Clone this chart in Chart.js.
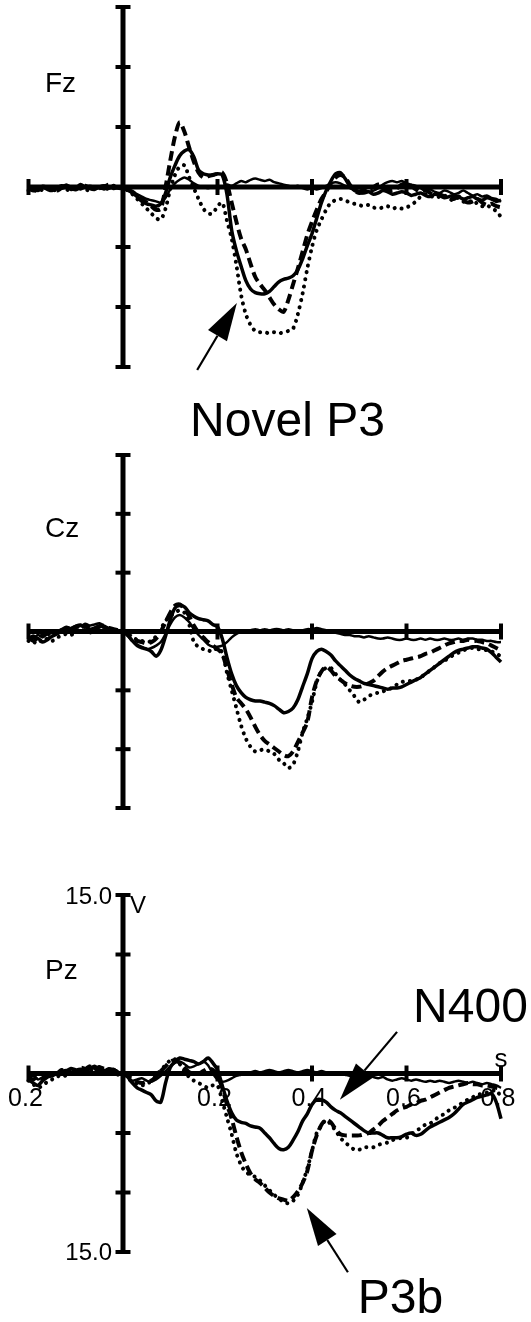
<!DOCTYPE html>
<html>
<head>
<meta charset="utf-8">
<script src="https://cdn.jsdelivr.net/npm/chart.js@4.4.1/dist/chart.umd.min.js"></script>
<style>
  html, body { margin: 0; padding: 0; background: #fff; }
  body { width: 531px; height: 1322px; position: relative; overflow: hidden; }
  canvas { position: absolute; left: 0; }
</style>
</head>
<body>
<canvas id="fz" width="531" height="450" style="top:0px"></canvas>
<canvas id="cz" width="531" height="430" style="top:450px"></canvas>
<canvas id="pz" width="531" height="442" style="top:880px"></canvas>
<script>
// time axis, seconds (10 ms steps)
var times = [
  -0.20,-0.19,-0.18,-0.17,-0.16,-0.15,-0.14,-0.13,-0.12,-0.11,
  -0.10,-0.09,-0.08,-0.07,-0.06,-0.05,-0.04,-0.03,-0.02,-0.01,
  0.00,0.01,0.02,0.03,0.04,0.05,0.06,0.07,0.08,0.09,
  0.10,0.11,0.12,0.13,0.14,0.15,0.16,0.17,0.18,0.19,
  0.20,0.21,0.22,0.23,0.24,0.25,0.26,0.27,0.28,0.29,
  0.30,0.31,0.32,0.33,0.34,0.35,0.36,0.37,0.38,0.39,
  0.40,0.41,0.42,0.43,0.44,0.45,0.46,0.47,0.48,0.49,
  0.50,0.51,0.52,0.53,0.54,0.55,0.56,0.57,0.58,0.59,
  0.60,0.61,0.62,0.63,0.64,0.65,0.66,0.67,0.68,0.69,
  0.70,0.71,0.72,0.73,0.74,0.75,0.76,0.77,0.78,0.79,
  0.80
];

// axis ticks
var xTicks = [-0.2, 0.2, 0.4, 0.6, 0.8];
var xTickLabels = ['0.2', '0.2', '0.4', '0.6', '0.8'];
var yTicks = [-15, -10, -5, 5, 10, 15];
var yEndLabels = ['15.0', '15.0'];

// Fz (uV, positive plotted downward)
var fzStd = [
  0.0,0.2,0.1,-0.1,0.0,0.2,0.1,0.0,-0.2,0.0,
  0.1,0.2,0.0,-0.1,0.0,0.1,0.2,0.0,-0.1,0.0,
  0.1,0.3,0.5,0.6,0.8,1.0,1.1,1.2,1.3,0.9,
  0.2,-0.3,-0.6,-0.8,-0.6,-0.3,-0.1,0.0,0.1,0.0,
  0.1,0.0,-0.2,-0.1,-0.3,-0.5,-0.4,-0.6,-0.7,-0.6,
  -0.5,-0.6,-0.4,-0.3,-0.2,-0.1,0.0,-0.1,0.1,0.2,
  0.1,0.2,0.1,-0.1,-0.3,-0.4,-0.3,-0.1,0.1,0.2,
  0.3,0.2,0.4,0.3,0.1,-0.2,-0.4,-0.5,-0.4,-0.5,
  -0.3,-0.2,-0.1,0.1,0.3,0.2,0.4,0.5,0.3,0.4,
  0.6,0.5,0.3,0.5,0.7,0.6,0.8,0.7,0.9,1.0,
  1.2
];
var fzSolid = [
  0.2,0.1,0.3,0.0,0.2,0.3,0.1,-0.1,0.0,0.2,
  0.1,-0.2,0.0,0.1,0.2,0.0,-0.1,0.1,0.0,0.1,
  0.0,0.2,0.5,0.8,1.2,1.4,1.5,1.6,1.4,0.5,
  -0.8,-1.8,-2.6,-3.0,-3.1,-2.5,-1.4,-1.1,-1.0,-1.0,
  -1.1,-1.0,0.6,3.6,5.3,6.6,7.8,8.5,8.8,8.9,
  8.9,8.7,8.3,7.9,7.7,7.6,7.4,6.9,6.0,4.9,
  3.9,2.6,1.3,0.3,-0.5,-1.1,-1.2,-0.7,-0.1,0.3,
  0.4,0.5,0.4,0.6,0.5,0.3,0.4,0.6,0.5,0.4,
  0.5,0.7,0.6,0.5,0.7,0.8,0.6,0.7,0.9,0.8,
  0.7,0.8,1.0,0.9,0.8,1.0,1.1,0.9,1.0,1.2,
  1.1
];
var fzDashed = [
  0.1,0.3,0.2,0.0,0.1,0.2,0.3,0.1,0.0,0.1,
  0.2,0.0,-0.1,0.1,0.2,0.1,0.0,-0.2,0.1,0.0,
  0.1,0.2,0.4,0.7,1.0,1.3,1.6,1.9,1.8,0.0,
  -2.2,-4.2,-5.4,-4.6,-3.3,-2.1,-1.2,-0.8,-0.9,-1.0,
  -1.1,-1.2,-0.3,1.3,2.9,4.3,5.2,6.4,7.5,8.1,
  8.6,9.2,9.8,10.2,10.4,9.4,8.1,6.8,5.4,4.0,
  2.9,1.9,1.0,0.4,-0.3,-0.8,-1.0,-0.8,-0.2,0.3,
  0.5,0.4,0.2,0.0,-0.2,-0.1,0.2,0.3,0.1,-0.2,
  -0.3,-0.1,0.2,0.4,0.3,0.5,0.7,0.6,0.8,0.9,
  1.0,0.8,1.1,1.3,1.2,1.0,1.3,1.5,1.4,1.6,
  1.7
];
var fzDotted = [
  0.3,0.2,0.4,0.2,0.1,0.3,0.2,0.0,0.2,0.3,
  0.1,0.0,0.2,0.3,0.1,0.0,0.2,0.1,-0.1,0.1,
  0.1,0.3,0.6,1.0,1.4,1.8,2.2,2.6,2.7,1.8,
  0.2,-1.0,-1.7,-1.8,-0.8,0.1,1.0,1.8,2.2,2.2,
  1.6,1.3,2.8,4.3,6.5,9.0,10.6,11.5,12.0,12.1,
  12.1,12.2,12.1,12.2,12.1,12.0,11.8,10.6,8.9,6.8,
  5.0,3.6,2.7,1.9,1.3,1.1,1.0,1.1,1.3,1.4,
  1.5,1.6,1.5,1.7,1.8,1.7,1.6,1.8,1.7,1.8,
  1.7,1.5,1.2,0.8,0.6,0.7,0.9,0.8,0.7,1.0,
  1.1,0.9,1.2,1.3,1.1,1.4,1.6,1.5,1.8,2.0,
  2.5
];

// Cz
var czStd = [
  0.4,0.6,0.3,0.5,0.2,0.1,0.0,-0.2,-0.4,-0.3,
  -0.5,-0.6,-0.4,-0.5,-0.6,-0.7,-0.5,-0.3,-0.2,-0.1,
  0.0,0.4,0.8,1.1,1.3,1.5,1.4,1.2,0.9,0.2,
  -0.6,-1.2,-1.4,-1.2,-0.8,-0.2,0.3,0.7,1.1,1.3,
  1.3,1.2,0.9,0.5,0.2,0.0,-0.1,-0.1,-0.2,-0.1,
  -0.2,-0.1,-0.2,-0.2,-0.1,-0.2,-0.1,0.0,-0.1,-0.2,
  -0.2,-0.3,-0.2,-0.1,0.0,0.1,0.2,0.3,0.3,0.4,
  0.4,0.5,0.4,0.5,0.6,0.6,0.5,0.6,0.7,0.7,
  0.6,0.7,0.7,0.6,0.7,0.6,0.7,0.7,0.6,0.7,
  0.7,0.6,0.7,0.6,0.6,0.7,0.7,0.8,0.8,0.9,
  0.9
];
var czSolid = [
  0.5,0.8,0.6,0.9,0.7,0.4,0.2,0.0,-0.2,-0.1,
  -0.3,-0.5,-0.4,-0.2,-0.3,-0.5,-0.4,-0.2,-0.1,0.0,
  0.0,0.3,0.8,1.2,1.4,1.5,1.7,2.1,1.6,0.4,
  -1.0,-2.0,-2.2,-2.1,-1.6,-1.3,-1.1,-1.0,-0.9,-0.6,
  -0.4,0.6,2.2,3.6,4.6,5.2,5.6,5.8,5.9,5.9,
  6.0,6.1,6.3,6.6,6.9,6.8,6.5,5.8,4.7,3.6,
  2.3,1.7,1.5,1.7,2.0,2.5,2.9,3.3,3.7,4.0,
  4.2,4.4,4.5,4.6,4.7,4.8,4.9,4.8,4.8,4.7,
  4.5,4.3,4.1,3.9,3.6,3.3,3.0,2.7,2.4,2.1,
  1.8,1.6,1.5,1.4,1.3,1.3,1.4,1.5,1.8,2.2,
  2.6
];
var czDashed = [
  0.7,0.4,0.6,0.3,0.2,0.4,0.1,-0.1,-0.3,-0.2,
  -0.4,-0.3,-0.6,-0.4,-0.2,-0.4,-0.5,-0.3,-0.2,-0.1,
  0.0,0.2,0.5,0.8,0.9,1.0,0.9,0.6,0.0,-0.8,
  -1.6,-2.2,-2.3,-1.9,-1.3,-0.5,0.1,0.5,0.9,1.2,
  1.5,1.9,3.2,4.5,5.6,6.1,6.6,7.3,8.1,8.8,
  9.3,9.6,9.9,10.2,10.5,10.6,10.2,9.4,8.6,7.7,
  5.6,4.2,3.4,3.0,3.3,3.8,4.1,4.4,4.6,4.7,
  4.7,4.6,4.4,4.2,3.8,3.4,3.1,2.9,2.7,2.5,
  2.4,2.3,2.2,2.1,1.9,1.8,1.6,1.4,1.2,1.0,
  0.9,0.8,0.8,0.7,0.8,0.8,0.9,1.0,1.2,1.4,
  1.6
];
var czDotted = [
  0.8,1.0,0.7,0.9,0.6,0.8,0.5,0.4,0.2,0.3,
  0.0,-0.2,-0.1,0.1,-0.2,-0.3,-0.1,0.0,-0.2,0.0,
  0.1,0.3,0.5,0.7,0.8,0.9,0.8,0.4,-0.2,-0.9,
  -1.3,-1.6,-1.8,-1.6,-0.6,0.9,1.3,1.5,1.6,1.7,
  1.4,1.8,3.5,5.0,6.5,8.0,9.1,9.8,10.2,10.1,
  10.0,10.2,10.4,10.9,11.2,11.6,11.3,10.2,8.6,7.4,
  6.0,4.3,3.4,3.1,3.1,3.6,4.1,4.5,5.0,5.5,
  6.0,5.8,5.5,5.3,5.2,5.1,4.9,4.8,4.5,4.3,
  4.2,4.2,4.1,3.9,3.6,3.3,3.0,2.7,2.5,2.2,
  2.0,1.8,1.6,1.5,1.4,1.5,1.5,1.6,1.7,1.9,
  2.1
];

// Pz
var pzStd = [
  0.4,0.2,0.5,0.3,0.1,-0.1,0.0,-0.2,-0.3,-0.1,
  -0.3,-0.4,-0.2,-0.5,-0.4,-0.6,-0.3,-0.2,-0.4,-0.1,
  0.0,0.3,0.6,0.5,0.4,0.6,0.7,0.5,0.2,-0.2,
  -0.6,-0.9,-1.0,-0.8,-0.5,-0.6,-0.8,-1.0,-0.7,0.0,
  0.5,0.7,0.6,0.4,0.2,0.1,0.0,-0.1,-0.2,-0.1,
  -0.2,-0.3,-0.2,-0.1,-0.2,-0.3,-0.2,-0.1,-0.2,-0.3,
  -0.2,-0.1,-0.2,-0.1,0.0,0.1,0.0,0.1,0.2,0.1,
  0.2,0.3,0.2,0.3,0.4,0.3,0.5,0.6,0.5,0.4,
  0.5,0.6,0.5,0.6,0.7,0.6,0.7,0.6,0.7,0.8,
  0.7,0.6,0.7,0.8,0.7,0.8,0.9,0.8,0.9,1.0,
  1.2
];
var pzSolid = [
  0.5,0.8,1.0,0.6,0.3,0.2,0.0,-0.2,-0.1,0.0,
  -0.2,-0.3,-0.2,-0.4,-0.6,-0.3,-0.2,-0.4,-0.3,-0.1,
  0.0,0.3,0.8,1.2,1.4,1.6,1.8,2.3,2.4,0.8,
  -0.5,-1.0,-1.3,-1.2,-1.1,-1.0,-0.8,-1.0,-1.3,-0.9,
  -0.3,1.0,2.3,3.3,3.9,4.1,4.2,4.4,4.5,4.6,
  5.0,5.4,5.9,6.3,6.4,6.2,5.6,4.9,4.0,3.4,
  2.6,2.2,2.2,2.4,2.8,3.1,3.3,3.6,3.9,4.2,
  4.5,4.8,5.0,5.0,5.0,5.2,5.4,5.4,5.4,5.3,
  5.1,5.0,5.2,5.1,4.8,4.5,4.3,4.1,3.9,3.7,
  3.4,3.0,2.6,2.4,2.2,2.0,1.9,1.8,1.7,2.4,
  3.8
];
var pzDashed = [
  0.3,0.5,0.2,0.4,0.1,-0.1,0.0,-0.3,-0.2,-0.4,
  -0.3,-0.5,-0.4,-0.6,-0.3,-0.5,-0.4,-0.2,-0.3,-0.1,
  0.0,0.2,0.5,0.7,0.8,0.7,0.6,0.3,-0.2,-0.6,
  -1.0,-1.1,-0.9,-0.5,-0.1,0.0,0.0,-0.2,-0.4,-0.3,
  0.2,1.2,2.6,3.8,5.3,6.6,7.6,8.4,8.9,9.2,
  9.6,10.0,10.3,10.5,10.6,10.7,10.4,9.9,9.2,8.2,
  6.5,5.2,4.3,3.9,4.1,4.7,5.1,5.2,5.2,5.2,
  5.2,5.1,5.0,4.7,4.4,4.0,3.7,3.4,3.1,2.9,
  2.8,2.6,2.5,2.3,2.2,2.0,1.8,1.6,1.4,1.2,
  1.1,1.0,0.9,0.8,0.9,0.9,1.0,1.0,1.1,1.2,
  1.3
];
var pzDotted = [
  0.6,0.9,1.2,1.0,0.7,0.5,0.3,0.1,0.2,0.0,
  -0.1,-0.3,-0.1,-0.2,-0.4,-0.2,0.0,-0.1,0.0,0.1,
  0.1,0.4,0.7,0.9,1.0,0.9,0.6,0.2,-0.3,-0.7,
  -1.1,-1.2,-0.8,-0.2,0.3,0.6,0.8,1.0,1.2,1.0,
  1.0,2.3,3.7,5.1,6.7,7.7,8.3,8.5,8.7,9.0,
  9.4,9.8,10.2,10.5,10.8,10.9,10.7,10.2,9.2,8.0,
  6.5,5.0,4.4,3.9,4.3,4.8,5.4,5.8,6.1,6.4,
  6.4,6.2,6.2,6.2,6.0,5.9,5.8,5.6,5.5,5.4,
  5.4,5.1,4.8,4.6,4.3,4.2,3.9,3.6,3.4,3.1,
  2.9,2.7,2.4,2.2,2.0,1.8,1.7,1.6,1.5,1.4,
  2.0
];

var FONT = '"Liberation Sans", Arial, Helvetica, sans-serif';

function seg(ctx, x1, y1, x2, y2) {
  ctx.beginPath();
  ctx.moveTo(x1, y1);
  ctx.lineTo(x2, y2);
  ctx.stroke();
}

function arrow(ctx, x1, y1, x2, y2) {
  var ang = Math.atan2(y2 - y1, x2 - x1);
  var len = 38, half = 11;
  var bx = x2 - len * Math.cos(ang), by = y2 - len * Math.sin(ang);
  ctx.lineWidth = 2.2;
  seg(ctx, x1, y1, bx, by);
  ctx.beginPath();
  ctx.moveTo(x2, y2);
  ctx.lineTo(bx + half * Math.sin(ang), by - half * Math.cos(ang));
  ctx.lineTo(bx - half * Math.sin(ang), by + half * Math.cos(ang));
  ctx.closePath();
  ctx.fill();
}

// crossing axes, tick marks, labels and the callouts
var erpFrame = {
  id: 'erpFrame',
  beforeDatasetsDraw: function (chart, args, o) {
    var ctx = chart.ctx, xs = chart.scales.x, ys = chart.scales.y;
    var x0 = xs.getPixelForValue(0), y0 = ys.getPixelForValue(0);
    ctx.save();
    ctx.strokeStyle = '#000';
    ctx.fillStyle = '#000';
    ctx.lineCap = 'butt';
    ctx.lineWidth = 5;
    seg(ctx, xs.left - 1, y0, xs.right + 2, y0);
    seg(ctx, x0, ys.top, x0, ys.bottom);
    ctx.lineWidth = 4;
    yTicks.forEach(function (v) {
      var y = ys.getPixelForValue(v);
      seg(ctx, x0 - 7.5, y, x0 + 7.5, y);
    });
    xTicks.forEach(function (t) {
      var x = xs.getPixelForValue(t);
      seg(ctx, x, y0 - 8, x, y0 + 8);
    });

    ctx.font = '28px ' + FONT;
    ctx.textAlign = 'left';
    ctx.textBaseline = 'alphabetic';
    ctx.fillText(o.channel, 45, y0 - 95);

    if (o.labels) {
      ctx.font = '25px ' + FONT;
      ctx.textAlign = 'center';
      xTicks.forEach(function (t, i) {
        ctx.fillText(xTickLabels[i], xs.getPixelForValue(t) - 3, y0 + 32);
      });
      ctx.font = '24px ' + FONT;
      ctx.textAlign = 'right';
      ctx.textBaseline = 'middle';
      ctx.fillText(yEndLabels[0], x0 - 11, ys.getPixelForValue(-15) + 2);
      ctx.fillText(yEndLabels[1], x0 - 11, ys.getPixelForValue(15) + 1);
      ctx.textAlign = 'left';
      ctx.textBaseline = 'alphabetic';
      ctx.fillText('V', x0 + 7, ys.getPixelForValue(-15) + 18);
      ctx.font = '26px ' + FONT;
      ctx.textAlign = 'center';
      ctx.fillText('s', xs.getPixelForValue(0.8), y0 - 7);
    }
    ctx.restore();
  },
  afterDatasetsDraw: function (chart, args, o) {
    var ctx = chart.ctx, xs = chart.scales.x, ys = chart.scales.y;
    ctx.save();
    ctx.strokeStyle = '#000';
    ctx.fillStyle = '#000';
    (o.notes || []).forEach(function (n) {
      ctx.font = '48px ' + FONT;
      ctx.textAlign = 'left';
      ctx.textBaseline = 'alphabetic';
      ctx.fillText(n.text, xs.getPixelForValue(n.at[0]), ys.getPixelForValue(n.at[1]));
      arrow(ctx,
        xs.getPixelForValue(n.from[0]), ys.getPixelForValue(n.from[1]),
        xs.getPixelForValue(n.to[0]), ys.getPixelForValue(n.to[1]));
    });
    ctx.restore();
  }
};

function makePanel(id, channel, std, solid, dashed, dotted, pad, extra) {
  var frameOpts = { channel: channel, labels: !!extra.labels, notes: extra.notes || [] };
  return new Chart(document.getElementById(id), {
    type: 'line',
    data: {
      labels: times,
      datasets: [
        { data: std, borderWidth: 2.5 },
        { data: solid, borderWidth: 3.5 },
        { data: dashed, borderWidth: 4, borderDash: [10, 5] },
        { data: dotted, borderWidth: 4, borderDash: [0.1, 7], borderCapStyle: 'round' }
      ]
    },
    options: {
      responsive: false,
      animation: false,
      events: [],
      layout: { padding: pad },
      elements: {
        point: { radius: 0 },
        line: { borderColor: '#000', tension: 0.3, fill: false, borderJoinStyle: 'round' }
      },
      datasets: { line: { clip: false } },
      scales: {
        x: { type: 'linear', min: -0.2, max: 0.8, display: false },
        y: { type: 'linear', min: -15, max: 15, reverse: true, display: false }
      },
      plugins: {
        legend: { display: false },
        tooltip: { enabled: false },
        erpFrame: frameOpts
      }
    },
    plugins: [erpFrame]
  });
}

makePanel('fz', 'Fz', fzStd, fzSolid, fzDashed, fzDotted,
  { left: 28.5, right: 30, top: 7, bottom: 83 },
  { notes: [{ text: 'Novel P3', at: [0.142, 20.75], from: [0.157, 15.25], to: [0.241, 9.67] }] });

makePanel('cz', 'Cz', czStd, czSolid, czDashed, czDotted,
  { left: 28.5, right: 30, top: 5, bottom: 72 }, {});

makePanel('pz', 'Pz', pzStd, pzSolid, pzDashed, pzDotted,
  { left: 28.5, right: 30, top: 15, bottom: 70 },
  {
    labels: true,
    notes: [
      { text: 'N400', at: [0.614, -4.33], from: [0.580, -3.5], to: [0.459, 2.2] },
      { text: 'P3b', at: [0.497, 20.1], from: [0.476, 16.7], to: [0.389, 11.3] }
    ]
  });
</script>
</body>
</html>
